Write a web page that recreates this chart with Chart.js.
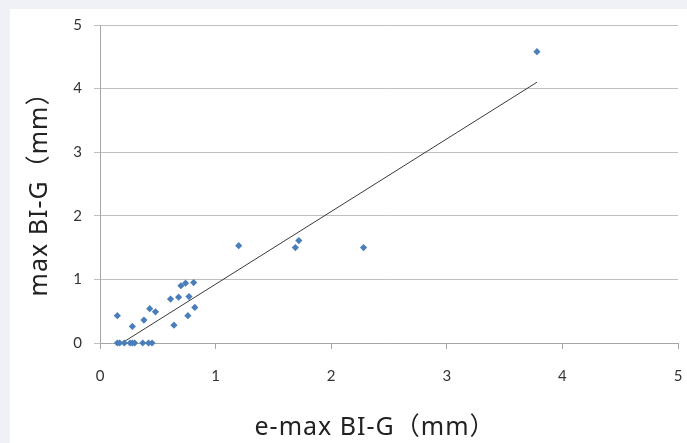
<!DOCTYPE html>
<html lang="ja">
<head>
    <meta charset="UTF-8">
    <title>max BI-G vs e-max BI-G</title>
    <style>
        body {
            margin: 0;
            padding: 0;
            background-color: #eff1f7;
        }
        .panel {
            position: absolute;
            left: 10px;
            top: 9px;
            width: 677px;
            height: 434px;
            background-color: #ffffff;
        }
    </style>
    <script src="https://cdn.jsdelivr.net/npm/chart.js"></script>
</head>
<body>
    <div class="panel">
        <canvas id="scatterChart" width="677" height="434"></canvas>
    </div>
    <script>
        // measured values (mm)
        const emaxValues = [0.15, 0.15, 0.17, 0.21, 0.26, 0.28, 0.30, 0.37, 0.42, 0.45,
            0.28, 0.38, 0.43, 0.48, 0.61, 0.64, 0.68, 0.70, 0.74, 0.81, 0.77, 0.76, 0.82,
            1.20, 1.69, 1.72, 2.28, 3.78];
        const maxValues = [0.43, 0, 0, 0, 0, 0, 0, 0, 0, 0,
            0.26, 0.36, 0.54, 0.49, 0.69, 0.28, 0.72, 0.90, 0.94, 0.95, 0.73, 0.43, 0.56,
            1.53, 1.50, 1.61, 1.50, 4.58];

        // linear trend line end points
        const trendX = [0.19, 3.78];
        const trendY = [0, 4.10];

        const xTicks = [0, 1, 2, 3, 4, 5];
        const yTicks = [0, 1, 2, 3, 4, 5];

        const xTitle = "e-max BI-G（mm）";
        const yTitle = "max BI-G（mm）";

        const points = emaxValues.map((x, i) => ({ x: x, y: maxValues[i] }));
        const trend = trendX.map((x, i) => ({ x: x, y: trendY[i] }));

        const tickFont = { family: "Lato, 'Noto Sans CJK JP', sans-serif", size: 15 };
        const titleFontCss = "25px 'Noto Sans', 'Noto Sans CJK JP', sans-serif";

        // axis titles drawn by hand so they can sit where the original has them
        const axisTitles = {
            id: "axisTitles",
            afterDraw(chart) {
                const c = chart.ctx;
                const area = chart.chartArea;
                c.save();
                c.font = titleFontCss;
                c.fillStyle = "#222222";
                c.textAlign = "center";
                c.textBaseline = "middle";
                if ("letterSpacing" in c) c.letterSpacing = "1px";
                c.fillText(xTitle, (area.left + area.right) / 2 - 14, 419);
                c.translate(30, (area.top + area.bottom) / 2 + 4);
                c.rotate(-Math.PI / 2);
                c.fillText(yTitle, 0, 0);
                c.restore();
            }
        };

        const ctx = document.getElementById("scatterChart").getContext("2d");
        new Chart(ctx, {
            type: "scatter",
            data: {
                datasets: [
                    {
                        label: "data",
                        data: points,
                        pointStyle: "rectRot",
                        pointRadius: 3.6,
                        pointHoverRadius: 3.6,
                        backgroundColor: "#4a7ebb",
                        borderColor: "#4a7ebb",
                        borderWidth: 0,
                        clip: false,
                        order: 1
                    },
                    {
                        label: "trend",
                        data: trend,
                        showLine: true,
                        pointRadius: 0,
                        borderColor: "#3a3a3a",
                        borderWidth: 1,
                        order: 2
                    }
                ]
            },
            options: {
                responsive: false,
                animation: false,
                layout: {
                    padding: { top: 16, right: 9, left: 0, bottom: 0 }
                },
                plugins: {
                    legend: { display: false },
                    tooltip: { enabled: false }
                },
                scales: {
                    x: {
                        type: "linear",
                        min: 0,
                        max: 5,
                        afterBuildTicks: (axis) => {
                            axis.ticks = xTicks.map(v => ({ value: v }));
                        },
                        afterFit: (axis) => {
                            axis.height = 100;
                            axis.paddingLeft = 0;
                            axis.paddingRight = 0;
                        },
                        ticks: {
                            font: tickFont,
                            color: "#333333",
                            padding: 18
                        },
                        grid: {
                            drawOnChartArea: false,
                            drawTicks: true,
                            tickLength: 6,
                            color: "#a6a6a6"
                        },
                        border: { color: "#a6a6a6" }
                    },
                    y: {
                        type: "linear",
                        min: 0,
                        max: 5,
                        afterBuildTicks: (axis) => {
                            axis.ticks = yTicks.map(v => ({ value: v }));
                        },
                        afterFit: (axis) => {
                            axis.width = 90;
                            axis.paddingTop = 0;
                            axis.paddingBottom = 0;
                        },
                        ticks: {
                            font: tickFont,
                            color: "#333333",
                            padding: 12
                        },
                        grid: {
                            drawTicks: true,
                            tickLength: 6,
                            color: "#bfbfbf"
                        },
                        border: { color: "#a6a6a6" }
                    }
                }
            },
            plugins: [axisTitles]
        });
    </script>
</body>
</html>
